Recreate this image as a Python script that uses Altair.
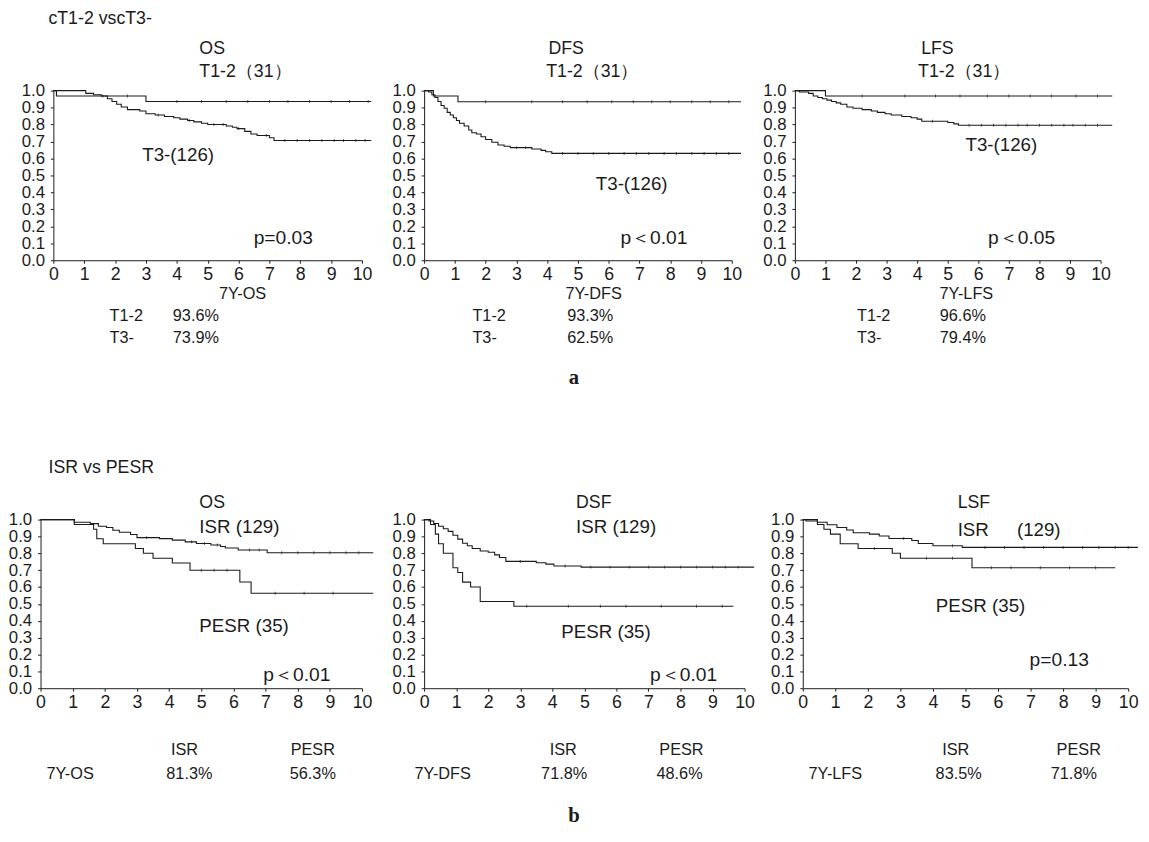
import altair as alt
import pandas as pd

# ---------------- data ----------------
# Row a : cT1-2 vs cT3-
a1_t12_t = [0, 0.1, 3.0, 10.3]
a1_t12_s = [1.0, 0.968, 0.936, 0.936]
a1_t12_c = [1.6, 2.4, 4.0, 4.8, 5.6, 6.3, 7.0, 7.6, 8.3, 9.0, 9.6, 10.2]
a1_t3_t = [0, 1.05, 1.3, 1.55, 1.75, 1.9, 2.05, 2.2, 2.4, 2.8, 3.0, 3.3, 3.6, 3.9, 4.1,
           4.35, 4.55, 4.8, 5.0, 5.6, 5.8, 5.95, 6.2, 6.4, 6.6, 7.0, 7.15, 10.3]
a1_t3_s = [1.0, 0.984, 0.976, 0.968, 0.952, 0.936, 0.92, 0.904, 0.888, 0.88, 0.864, 0.856,
           0.848, 0.84, 0.832, 0.824, 0.816, 0.808, 0.8, 0.792, 0.784, 0.776, 0.76, 0.744,
           0.736, 0.722, 0.706, 0.706]
a1_t3_c = [3.4, 4.4, 5.2, 5.5, 6.0, 6.9, 7.5, 7.9, 8.3, 8.7, 9.1, 9.4, 9.8, 10.1]

a2_t12_t = [0, 0.3, 1.1, 10.3]
a2_t12_s = [1.0, 0.968, 0.935, 0.935]
a2_t12_c = [2.0, 3.5, 4.5, 5.3, 6.1, 6.8, 7.4, 8.0, 8.7, 9.3, 9.9]
a2_t3_t = [0, 0.15, 0.25, 0.35, 0.45, 0.55, 0.65, 0.75, 0.85, 0.95, 1.05, 1.15, 1.3, 1.45,
           1.55, 1.7, 1.85, 2.0, 2.2, 2.4, 2.6, 2.8, 3.5, 3.8, 3.95, 4.15, 10.3]
a2_t3_s = [1.0, 0.992, 0.976, 0.96, 0.936, 0.912, 0.896, 0.872, 0.856, 0.84, 0.824, 0.808,
           0.792, 0.768, 0.752, 0.744, 0.728, 0.712, 0.696, 0.68, 0.672, 0.664, 0.656, 0.648,
           0.64, 0.63, 0.63]
a2_t3_c = [3.0, 3.3, 4.5, 5.0, 5.5, 6.0, 6.5, 6.9, 7.3, 7.8, 8.2, 8.7, 9.1, 9.5, 9.9]

a3_t12_t = [0, 1.0, 10.38]
a3_t12_s = [1.0, 0.968, 0.968]
a3_t12_c = [2.2, 3.6, 4.6, 5.4, 6.3, 7.0, 7.7, 8.4, 9.2, 9.9]
a3_t3_t = [0, 0.15, 0.45, 0.6, 0.75, 0.9, 1.05, 1.2, 1.35, 1.5, 1.7, 1.9, 2.2, 2.5, 2.7,
           2.95, 3.15, 3.5, 3.8, 4.0, 4.15, 5.0, 5.2, 5.35, 10.38]
a3_t3_s = [1.0, 0.992, 0.984, 0.968, 0.96, 0.952, 0.944, 0.936, 0.928, 0.92, 0.904, 0.896,
           0.888, 0.88, 0.872, 0.864, 0.856, 0.848, 0.84, 0.832, 0.82, 0.812, 0.804, 0.796,
           0.796]
a3_t3_c = [4.5, 5.7, 6.1, 6.5, 6.9, 7.3, 7.6, 8.0, 8.4, 8.8, 9.1, 9.5, 9.9]

# Row b : ISR vs PESR
b1_isr_t = [0, 1.05, 1.55, 1.8, 2.05, 2.25, 2.45, 2.8, 3.0, 3.7, 4.1, 4.5, 4.85, 5.3, 5.6,
            5.75, 6.15, 7.05, 10.35]
b1_isr_s = [1.0, 0.984, 0.976, 0.961, 0.953, 0.937, 0.925, 0.912, 0.893, 0.887, 0.878,
            0.868, 0.858, 0.849, 0.84, 0.832, 0.82, 0.803, 0.803]
b1_isr_c = [3.3, 4.7, 5.1, 5.5, 6.5, 6.8, 7.5, 8.0, 8.5, 9.0, 9.5, 9.9]
b1_pesr_t = [0, 1.05, 1.65, 1.75, 1.95, 2.95, 3.2, 3.5, 4.1, 4.65, 6.2, 6.55, 10.35]
b1_pesr_s = [1.0, 0.971, 0.943, 0.886, 0.857, 0.829, 0.8, 0.771, 0.743, 0.7, 0.63, 0.563,
             0.563]
b1_pesr_c = [5.0, 5.4, 5.8, 7.3, 8.2, 9.1]

b2_isr_t = [0, 0.15, 0.3, 0.45, 0.6, 0.75, 0.9, 1.05, 1.2, 1.35, 1.5, 1.75, 2.0, 2.2, 2.35,
            2.55, 3.5, 3.8, 4.05, 4.9, 10.3]
b2_isr_s = [1.0, 0.992, 0.977, 0.961, 0.946, 0.93, 0.907, 0.884, 0.86, 0.845, 0.829, 0.814,
            0.806, 0.791, 0.775, 0.752, 0.744, 0.736, 0.725, 0.718, 0.718]
b2_isr_c = [3.0, 4.4, 5.2, 5.8, 6.4, 7.0, 7.5, 8.0, 8.5, 9.0, 9.4, 9.8]
b2_pesr_t = [0, 0.2, 0.35, 0.45, 0.6, 0.9, 1.05, 1.2, 1.45, 1.75, 2.8, 9.65]
b2_pesr_s = [1.0, 0.971, 0.914, 0.857, 0.8, 0.714, 0.686, 0.629, 0.6, 0.514, 0.486, 0.486]
b2_pesr_c = [3.2, 4.5, 5.5, 6.3, 7.4, 8.5, 9.3]

b3_isr_t = [0, 0.1, 0.45, 0.75, 1.05, 1.35, 1.55, 2.05, 2.35, 2.65, 3.35, 3.55, 4.0, 4.9,
            10.3]
b3_isr_s = [1.0, 0.992, 0.984, 0.969, 0.953, 0.938, 0.922, 0.914, 0.903, 0.888, 0.876,
            0.858, 0.845, 0.835, 0.835]
b3_isr_c = [3.1, 4.6, 5.6, 6.2, 6.8, 7.4, 8.0, 8.6, 9.1, 9.6, 10.0]
b3_pesr_t = [0, 0.45, 0.65, 0.85, 1.15, 1.7, 2.75, 3.0, 5.2, 9.6]
b3_pesr_s = [1.0, 0.971, 0.943, 0.914, 0.857, 0.829, 0.8, 0.771, 0.714, 0.714]
b3_pesr_c = [2.2, 3.8, 4.6, 5.8, 6.4, 7.3, 8.2, 9.0]

x_ticks = list(range(11))
y_ticks = [round(i / 10, 1) for i in range(11)]

# ---------------- style ----------------
FONT = "Liberation Sans"
SERIF = "Liberation Serif"
INK = "#1b1b1b"


def step_value(ts, ss, x):
    v = ss[0]
    for t, s in zip(ts, ss):
        if t <= x:
            v = s
    return v


def panel(curves, width, height, left=(), center=(), bold=()):
    rows, cens = [], []
    for name, ts, ss, cs in curves:
        rows += [{"g": name, "t": t, "s": s} for t, s in zip(ts, ss)]
        cens += [{"g": name, "t": c, "s": step_value(ts, ss, c)} for c in cs]
    xsc = alt.Scale(domain=[0, 10], nice=False, zero=False)
    ysc = alt.Scale(domain=[0, 1], nice=False, zero=False)
    xax = alt.Axis(values=x_ticks, tickCount=11, format="d", title=None, grid=False,
                   labelFont=FONT, labelFontSize=18, labelColor=INK, tickSize=3,
                   tickColor=INK, domainColor=INK, domainWidth=1, labelPadding=3,
                   labelFlush=False, labelOverlap=False)
    yax = alt.Axis(values=y_ticks, tickCount=11, format=".1f", title=None, grid=False,
                   labelFont=FONT, labelFontSize=17, labelColor=INK, tickSize=3,
                   tickColor=INK, domainColor=INK, domainWidth=1, labelPadding=6,
                   labelOverlap=False, labelFlush=False)
    X = alt.X("t:Q", scale=xsc, axis=xax)
    Y = alt.Y("s:Q", scale=ysc, axis=yax)
    layers = [
        alt.Chart(pd.DataFrame(rows)).mark_line(
            interpolate="step-after", color=INK, strokeWidth=1.1
        ).encode(x=X, y=Y, detail="g:N"),
        alt.Chart(pd.DataFrame(cens)).mark_tick(
            orient="vertical", size=3, thickness=1, color=INK
        ).encode(x=X, y=Y),
    ]
    for items, align, font, weight in ((left, "left", FONT, "normal"),
                                       (center, "center", FONT, "normal"),
                                       (bold, "center", SERIF, "bold")):
        if items:
            df = pd.DataFrame(items, columns=["label", "t", "s", "fs"])
            layers.append(
                alt.Chart(df).mark_text(align=align, baseline="middle", font=font,
                                        fontWeight=weight, color=INK)
                .encode(x=X, y=Y, text="label:N",
                        size=alt.Size("fs:Q", scale=None, legend=None))
            )
    return alt.layer(*layers).properties(width=width, height=height)


def spacer(w, h):
    return alt.Chart(pd.DataFrame({"v": [0]})).mark_point(opacity=0).encode(
        x=alt.value(0), y=alt.value(0)
    ).properties(width=w, height=h)


HA, HB = 172, 171
P = 18      # size of annotations inside plots
TB = 16.5   # size of the 7-year tables

a1 = panel(
    [("T1-2", a1_t12_t, a1_t12_s, a1_t12_c), ("T3-", a1_t3_t, a1_t3_s, a1_t3_c)], 313, HA,
    left=[("cT1-2 vscT3-", -0.16, 1.42, 18), ("OS", 4.73, 1.244, P),
          ("T1-2（31）", 4.73, 1.11, P), ("T3-(126)", 2.88, 0.622, 19),
          ("p=0.03", 6.49, 0.128, 19.5), ("T1-2", 1.82, -0.331, TB), ("93.6%", 3.87, -0.331, TB),
          ("T3-", 1.82, -0.459, TB), ("73.9%", 3.87, -0.459, TB)],
    center=[("7Y-OS", 6.13, -0.198, TB)],
)
a2 = panel(
    [("T1-2", a2_t12_t, a2_t12_s, a2_t12_c), ("T3-", a2_t3_t, a2_t3_s, a2_t3_c)], 312, HA,
    left=[("DFS", 4.04, 1.244, P), ("T1-2（31）", 3.97, 1.11, P),
          ("T3-(126)", 5.58, 0.448, 19), ("p＜0.01", 6.38, 0.128, 19.5),
          ("T1-2", 1.57, -0.331, TB), ("93.3%", 4.65, -0.331, TB),
          ("T3-", 1.57, -0.459, TB), ("62.5%", 4.65, -0.459, TB)],
    center=[("7Y-DFS", 5.51, -0.198, TB)],
    bold=[("a", 4.87, -0.692, 21)],
)
a3 = panel(
    [("T1-2", a3_t12_t, a3_t12_s, a3_t12_c), ("T3-", a3_t3_t, a3_t3_s, a3_t3_c)], 310, HA,
    left=[("LFS", 4.13, 1.244, P), ("T1-2（31）", 4.03, 1.11, P),
          ("T3-(126)", 5.58, 0.68, 19), ("p＜0.05", 6.32, 0.128, 19.5),
          ("T1-2", 2.03, -0.331, TB), ("96.6%", 4.74, -0.331, TB),
          ("T3-", 2.03, -0.459, TB), ("79.4%", 4.74, -0.459, TB)],
    center=[("7Y-LFS", 5.61, -0.198, TB)],
)

b1 = panel(
    [("ISR", b1_isr_t, b1_isr_s, b1_isr_c), ("PESR", b1_pesr_t, b1_pesr_s, b1_pesr_c)], 326, HB,
    left=[("ISR vs PESR", 0.25, 1.304, 18), ("OS", 4.94, 1.099, P),
          ("ISR (129)", 4.94, 0.953, 19), ("PESR (35)", 4.94, 0.368, 19),
          ("p＜0.01", 6.93, 0.076, 19.5)],
    center=[("ISR", 4.48, -0.368, TB), ("PESR", 8.47, -0.368, TB),
            ("7Y-OS", 0.92, -0.509, TB), ("81.3%", 4.63, -0.509, TB),
            ("56.3%", 8.47, -0.509, TB)],
)
b2 = panel(
    [("ISR", b2_isr_t, b2_isr_s, b2_isr_c), ("PESR", b2_pesr_t, b2_pesr_s, b2_pesr_c)], 325, HB,
    left=[("DSF", 4.74, 1.099, P), ("ISR (129)", 4.74, 0.953, 19),
          ("PESR (35)", 4.28, 0.333, 19), ("p＜0.01", 7.05, 0.076, 19.5)],
    center=[("ISR", 4.34, -0.368, TB), ("PESR", 8.03, -0.368, TB),
            ("7Y-DFS", 0.58, -0.509, TB), ("71.8%", 4.37, -0.509, TB),
            ("48.6%", 7.97, -0.509, TB)],
    bold=[("b", 4.68, -0.76, 21)],
)
b3 = panel(
    [("ISR", b3_isr_t, b3_isr_s, b3_isr_c), ("PESR", b3_pesr_t, b3_pesr_s, b3_pesr_c)], 330, HB,
    left=[("LSF", 4.76, 1.099, P), ("ISR", 4.76, 0.94, 19), ("(129)", 6.58, 0.94, 19),
          ("PESR (35)", 4.09, 0.485, 19), ("p=0.13", 6.97, 0.164, 19.5)],
    center=[("ISR", 4.7, -0.368, TB), ("PESR", 8.48, -0.368, TB),
            ("7Y-LFS", 1.0, -0.509, TB), ("83.5%", 4.79, -0.509, TB),
            ("71.8%", 8.33, -0.509, TB)],
)

row_a = alt.hconcat(spacer(13, HA), a1, spacer(63, HA), a2, spacer(64, HA), a3,
                    spacing=0, bounds="flush")
row_b = alt.hconcat(b1, spacer(63, HB), b2, spacer(59, HB), b3,
                    spacing=0, bounds="flush")

# with flush bounds the nested row counts as zero height, so the gap includes row a's height
chart = alt.vconcat(row_a, row_b, spacing=HA + 263, bounds="flush").properties(
    padding={"left": 0, "top": -4, "right": 0, "bottom": 0},
    background="white",
).configure_view(stroke=None)

chart.save("out.html", embed_options={"renderer": "svg", "actions": False})
